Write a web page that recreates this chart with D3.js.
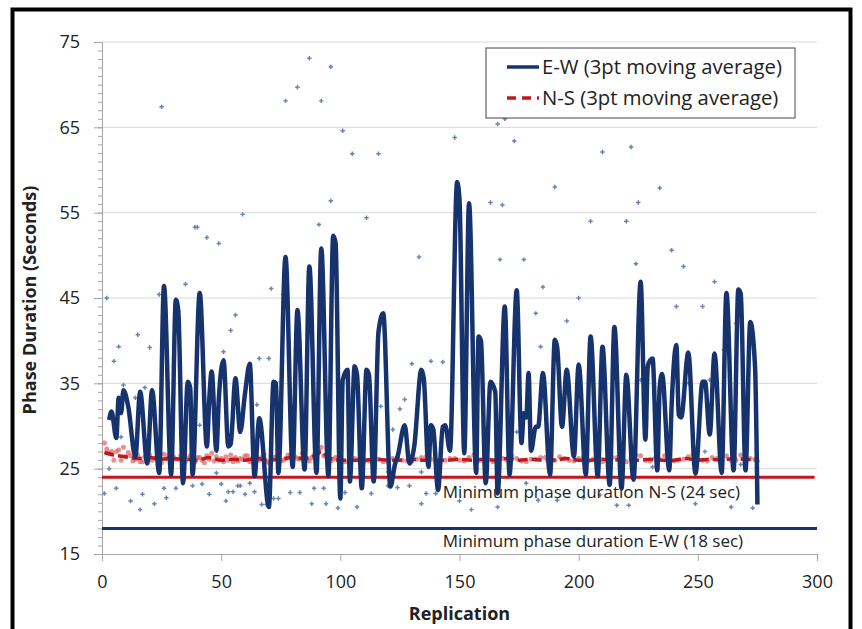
<!DOCTYPE html>
<html>
<head>
<meta charset="utf-8">
<script src="https://cdn.jsdelivr.net/npm/d3@7"></script>
<style>
  body { margin: 0; background: #fff; }
  svg { display: block; font-family: 'Open Sans', sans-serif; }
</style>
</head>
<body>
<div id="chart"></div>
<script>
// E-W 3pt moving average (replication, seconds) read at turning points
var ewRep = [3,4,6,7,8,9,11,14,16,19,21,24,26,29,31,32,34,36,37,38,41,44,45,46,48,49,51,53,54,56,58,60,62,64,66,70,72,73,74,77,80,82,85,87,90,92,95,97,98,100,101,103,104,106,107,109,111,112,114,116,118,121,123,124,127,129,131,134,135,137,138,139,141,143,144,146,149,150,152,154,157,158,159,161,163,165,166,169,171,174,176,177,178,179,180,182,183,185,188,190,191,193,195,198,200,203,205,208,210,213,215,218,220,223,226,228,229,230,231,233,234,235,238,239,241,242,243,246,249,252,253,255,257,260,262,265,267,268,270,272,274,275]
var ewAvg = [30.7,31.7,28.6,33.3,31.5,34.2,32.3,26.4,34.0,25.6,34.2,24.5,46.4,24.3,44.8,43.5,23.3,35.2,34.5,24.3,45.6,27.6,33.1,36.4,27.1,33.1,37.7,27.6,27.9,35.6,29.3,33.8,37.3,24.1,30.9,20.5,35.2,35.0,24.5,49.8,25.2,43.6,24.9,48.7,24.5,50.8,24.1,52.3,51.5,21.5,35.4,36.6,23.5,37.0,36.0,22.7,36.6,36.0,23.5,41.0,43.2,22.9,25.6,26.4,30.1,25.6,27.6,36.6,35.6,25.2,30.1,29.6,22.5,29.9,30.1,27.1,58.6,56.5,26.8,56.1,24.5,40.5,40.0,23.3,35.2,34.0,22.1,44.0,24.3,45.9,28.0,31.5,31.0,36.2,27.1,29.9,29.9,36.2,24.3,40.1,39.2,29.9,36.6,26.4,37.2,24.3,40.5,24.1,39.3,23.1,41.6,22.7,36.0,23.7,46.9,28.4,37.0,37.7,37.9,24.8,34.6,36.1,24.8,32.4,39.5,31.3,31.0,38.6,24.4,35.2,35.2,29.0,38.5,24.5,45.6,24.8,46.0,45.5,24.8,42.2,37.0,20.8]

// raw E-W values visible outside the line
var ewRawRep = [25,77,82,87,92,96,101,105,116,111,96,91,133,148,164,166,169,173,190,163,168,225,205,220,167,177,224,185,200,182,195,184,190,174,226,210,222,234,239,244,257,241,252,261,266,255,246,253,268,267,59,39,40,44,49,35,24,2,56,54,15,7,20,5,51,66,70,71,76,18,9,65,41,14,8,75,130,138,143,127,125,117,122,
  1,3,6,12,16,17,22,26,27,31,38,42,45,48,50,52,53,55,57,58,60,62,64,67,69,72,74,79,83,89,93,88,94,99,107,102,113,120,124,129,134,136,140,134,120,150,155,166,178,183,191,202,209,216,221,231,249,264,273]
var ewRaw = [67.4,68.1,69.7,73.1,68.1,72.1,64.6,61.9,61.9,54.4,56.4,53.6,49.8,63.8,69.6,65.4,66.0,63.4,58.0,56.2,55.9,56.2,54.0,54.0,49.5,49.5,49.0,46.3,45.0,43.2,42.3,39.3,37.7,29.3,35.4,62.1,62.7,57.9,50.6,48.7,46.9,44.0,44.0,38.9,42.0,35.4,35.0,27.0,25.5,68.7,54.8,53.3,53.3,52.1,51.4,46.6,45.4,45.0,43.0,41.2,40.7,39.3,39.2,37.6,38.7,37.9,37.9,46.1,45.4,34.5,34.8,32.5,30.1,33.3,28.7,35.2,37.3,37.6,37.5,33.1,32.0,32.3,29.6,
  22.1,25.0,22.7,21.2,20.2,22.0,20.9,22.7,21.6,22.7,23.0,23.2,22.0,24.5,23.2,21.2,22.3,22.3,23.0,23.0,22.0,23.3,22.3,20.8,20.8,21.5,21.5,22.2,22.2,22.7,22.7,20.9,20.9,20.4,20.5,22.2,22.1,23.0,22.8,23.0,24.6,22.1,22.1,20.9,24.6,21.2,20.2,20.5,23.3,21.3,21.3,21.6,21.9,20.7,20.7,25.2,20.9,20.5,20.4]

// N-S 3pt moving average
var nsRep = [1,5,10,15,20,25,30,35,40,45,50,55,60,65,70,75,80,85,90,92,95,100,105,110,115,120,125,130,135,140,145,150,155,160,165,170,175,180,185,190,195,200,205,210,215,220,225,230,235,240,245,250,255,260,265,270,275]
var nsAvg = [26.9,26.6,26.4,26.2,26.3,26.1,26.2,26.1,26.0,26.3,26.0,26.1,26.0,26.2,26.0,26.1,26.3,26.2,26.6,27.0,26.3,26.0,26.0,26.0,26.1,26.0,26.0,26.1,26.0,26.0,26.0,26.1,26.0,26.1,26.0,26.2,26.0,26.1,26.0,26.0,26.2,26.0,26.0,26.1,26.0,26.2,26.0,26.1,26.0,26.0,26.2,26.0,26.1,26.0,26.2,26.1,26.0]

// raw N-S values
var nsRawRep = [1,2,3,4,5,6,7,8,9,10,11,13,15,17,19,22,25,28,31,34,37,40,43,46,49,52,55,58,61,64,67,70,73,76,79,82,85,88,91,92,94,97,100,104,108,112,116,120,124,128,132,136,140,144,148,152,156,160,164,168,172,176,180,184,188,192,196,200,204,208,212,216,220,224,228,232,236,240,244,248,252,256,260,264,268,272,275,
  12,14,16,18,20,21,23,24,26,27,29,30,32,33,35,36,38,39,41,42,44,45,47,48,50,51,53,54,56,57,59,60,62,63,65,66,68,69,71,72,74,75,77,78,80,81,83,84,86,87,89,90,93,95,96,98,99,102,106,110,114,118,122,126,130,134,138,142,146,150,154,158,162,166,170,174,178,182,186,190,194,198,202,206,210,214,218,222,226,230,234,238,242,246,250,254,258,262,266,270,274]
var nsRaw = [28.0,27.3,26.8,27.0,26.0,27.0,27.2,26.0,27.5,26.4,26.9,25.9,26.6,25.8,26.7,26.2,25.7,26.6,26.1,25.8,26.5,26.3,25.7,26.8,26.0,26.4,25.8,26.2,26.5,25.9,26.3,25.7,26.4,26.0,26.6,26.2,26.9,26.3,27.2,27.5,26.4,26.1,25.8,26.0,26.2,25.9,26.1,25.8,26.3,25.9,26.1,26.4,25.8,26.0,26.2,25.9,26.6,26.0,25.8,26.2,26.5,25.9,26.1,26.3,25.8,26.4,26.0,26.2,25.9,26.5,26.0,26.3,25.8,26.6,26.0,26.2,26.5,25.9,26.1,26.7,26.0,26.3,26.5,26.0,26.6,26.2,25.9,
  26.5,26.1,25.8,26.4,26.6,26.0,26.3,25.9,26.7,26.2,25.8,26.4,26.1,26.5,25.9,26.2,26.6,25.8,26.3,26.0,26.5,26.1,25.9,26.4,26.2,25.8,26.0,26.6,26.3,25.9,26.1,26.5,25.8,26.2,26.4,26.0,26.7,25.8,26.1,26.3,26.5,25.9,26.2,26.6,25.9,26.4,26.1,26.8,26.2,25.9,26.6,27.0,26.5,26.1,25.9,26.3,26.0,25.8,26.2,25.9,26.1,25.8,26.2,26.0,25.9,26.3,26.1,25.8,26.2,26.0,26.3,25.9,26.1,26.4,26.0,26.2,25.8,26.1,26.3,26.0,26.2,25.9,26.4,26.1,25.8,26.3,26.0,26.2,26.5,25.9,26.1,26.3,26.0,26.4,26.1,25.9,26.2,26.5,26.0,26.2,26.1]

var ewMinimum = 18
var nsMinimum = 24
var yTicks = [15,25,35,45,55,65,75]
var xTicks = [0,50,100,150,200,250,300]

var width = 862, height = 629
var margin = {top: 42, right: 45, bottom: 75, left: 102}
var innerW = 817 - margin.left, innerH = 554 - margin.top

var navy = '#17336e', red = '#c2171d'

var svg = d3.select('#chart').append('svg')
    .attr('width', width)
    .attr('height', height)

// outer frame
svg.append('rect')
    .attr('x', 12.5).attr('y', 9.5)
    .attr('width', 838).attr('height', 640)
    .attr('fill', 'none')
    .attr('stroke', '#000')
    .attr('stroke-width', 4)

var g = svg.append('g')
    .attr('transform', 'translate(' + margin.left + ',' + margin.top + ')')

var x = d3.scaleLinear().domain([0, 300]).range([0, innerW])
var y = d3.scaleLinear().domain([15, 75]).range([innerH, 0])

// gridlines
g.selectAll('.grid').data(yTicks.slice(1)).enter().append('line')
    .attr('x1', 0).attr('x2', innerW)
    .attr('y1', function(d){ return y(d) }).attr('y2', function(d){ return y(d) })
    .attr('stroke', '#d9d9d9')
    .attr('stroke-width', 1)

// y axis with minor ticks
var minor = d3.range(15, 76, 1)
g.append('g')
    .call(d3.axisLeft(y).tickValues(minor).tickSize(4).tickFormat(''))
    .call(function(s){
      s.select('.domain').attr('stroke', '#a6a6a6')
      s.selectAll('.tick line').attr('stroke', '#a6a6a6')
    })
g.append('g')
    .call(d3.axisLeft(y).tickValues(yTicks).tickSize(8).tickPadding(14).tickFormat(d3.format('d')))
    .call(function(s){
      s.select('.domain').remove()
      s.selectAll('.tick line').attr('stroke', '#a6a6a6')
      s.selectAll('text').attr('font-size', 18).attr('fill', '#222')
        .attr('font-family', "'Open Sans', sans-serif")
    })

g.append('g')
    .attr('transform', 'translate(0,' + innerH + ')')
    .call(d3.axisBottom(x).tickValues(xTicks).tickSize(7).tickPadding(14))
    .call(function(s){
      s.select('.domain').attr('stroke', '#a6a6a6')
      s.selectAll('.tick line').attr('stroke', '#a6a6a6')
      s.selectAll('text').attr('font-size', 18).attr('fill', '#222')
        .attr('font-family', "'Open Sans', sans-serif")
    })

// minimum lines
g.append('line')
    .attr('x1', 0).attr('x2', x(299))
    .attr('y1', y(nsMinimum)).attr('y2', y(nsMinimum))
    .attr('stroke', red).attr('stroke-width', 3)
g.append('line')
    .attr('x1', 0).attr('x2', x(300))
    .attr('y1', y(ewMinimum)).attr('y2', y(ewMinimum))
    .attr('stroke', navy).attr('stroke-width', 3)

// raw E-W points
var cross = d3.symbol().type(d3.symbolCross).size(11)
g.selectAll('.ewraw').data(ewRaw).enter().append('path')
    .attr('d', cross)
    .attr('transform', function(d, i){ return 'translate(' + x(ewRawRep[i]) + ',' + y(d) + ')' })
    .attr('fill', '#6485b8')

// raw N-S points
g.selectAll('.nsraw').data(nsRaw).enter().append('circle')
    .attr('cx', function(d, i){ return x(nsRawRep[i]) })
    .attr('cy', function(d){ return y(d) })
    .attr('r', 2.5)
    .attr('fill', '#dd6a6a')
    .attr('opacity', 0.75)

// N-S moving average (dashed)
var nsLine = d3.line()
    .x(function(d){ return x(d[0]) })
    .y(function(d){ return y(d[1]) })
    .curve(d3.curveMonotoneX)
g.append('path')
    .datum(nsRep.map(function(r, i){ return [r, nsAvg[i]] }))
    .attr('d', nsLine)
    .attr('fill', 'none')
    .attr('stroke', red)
    .attr('stroke-width', 3.5)
    .attr('stroke-dasharray', '10,4')

// E-W moving average
var ewLine = d3.line()
    .x(function(d){ return x(d[0]) })
    .y(function(d){ return y(d[1]) })
    .curve(d3.curveMonotoneX)
g.append('path')
    .datum(ewRep.map(function(r, i){ return [r, ewAvg[i]] }))
    .attr('d', ewLine)
    .attr('fill', 'none')
    .attr('stroke', navy)
    .attr('stroke-width', 4.5)
    .attr('stroke-linejoin', 'round')

// annotations
g.append('text')
    .attr('x', x(143)).attr('y', y(nsMinimum) + 21)
    .attr('font-size', 17).attr('fill', '#222')
    .text('Minimum phase duration N-S (24 sec)')
g.append('text')
    .attr('x', x(143)).attr('y', y(ewMinimum) + 19)
    .attr('font-size', 17).attr('fill', '#222')
    .text('Minimum phase duration E-W (18 sec)')

// axis titles
svg.append('text')
    .attr('x', margin.left + innerW / 2).attr('y', 620)
    .attr('text-anchor', 'middle')
    .attr('font-size', 18).attr('font-weight', 'bold').attr('fill', '#222')
    .text('Replication')
svg.append('text')
    .attr('transform', 'translate(36,300) rotate(-90)')
    .attr('text-anchor', 'middle')
    .attr('font-size', 18).attr('font-weight', 'bold').attr('fill', '#222')
    .text('Phase Duration (Seconds)')

// legend
var legend = svg.append('g').attr('transform', 'translate(486,48)')
legend.append('rect')
    .attr('width', 309).attr('height', 70)
    .attr('fill', '#fff').attr('stroke', '#444').attr('stroke-width', 1)
legend.append('line')
    .attr('x1', 21).attr('x2', 53).attr('y1', 19).attr('y2', 19)
    .attr('stroke', navy).attr('stroke-width', 3.5)
legend.append('line')
    .attr('x1', 21).attr('x2', 53).attr('y1', 50).attr('y2', 50)
    .attr('stroke', red).attr('stroke-width', 3.5)
    .attr('stroke-dasharray', '9,6')
legend.append('text')
    .attr('x', 56).attr('y', 26)
    .attr('font-size', 20.3).attr('fill', '#222')
    .text('E-W (3pt moving average)')
legend.append('text')
    .attr('x', 56).attr('y', 57)
    .attr('font-size', 20.3).attr('fill', '#222')
    .text('N-S (3pt moving average)')
</script>
</body>
</html>
